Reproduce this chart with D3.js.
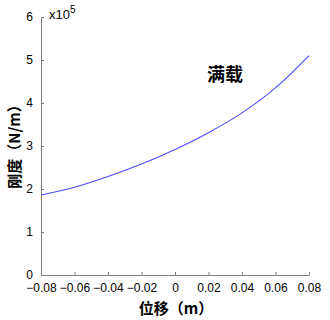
<!DOCTYPE html>
<html>
<head>
<meta charset="utf-8">
<script src="https://cdn.jsdelivr.net/npm/d3@7"></script>
<style>
  body { margin: 0; background: #fff; }
  text { font-family: "Liberation Sans", Arial, sans-serif; }
  .cjk { font-family: "Noto Sans CJK SC", sans-serif; font-weight: bold; }
</style>
</head>
<body>
<div id="chart"></div>
<script>
// displacement (m) and stiffness (x10^5 N/m)
const disp = [-0.08, -0.06, -0.04, -0.02, 0, 0.02, 0.04, 0.06, 0.08];
const stiff = [1.86, 2.04, 2.29, 2.58, 2.92, 3.31, 3.77, 4.35, 5.1];
const xTicks = [-0.08, -0.06, -0.04, -0.02, 0, 0.02, 0.04, 0.06, 0.08];
const yTicks = [0, 1, 2, 3, 4, 5, 6];

const width = 330, height = 320;
const margin = { top: 17, right: 21, bottom: 45, left: 41 };

const svg = d3.select("#chart").append("svg")
    .attr("width", width)
    .attr("height", height);

const x = d3.scaleLinear().domain([-0.08, 0.08]).range([margin.left, width - margin.right]);
const y = d3.scaleLinear().domain([0, 6]).range([height - margin.bottom, margin.top]);

// axes, ticks pointing inward
const xAxis = svg.append("g")
    .attr("transform", `translate(0,${height - margin.bottom})`)
    .call(d3.axisBottom(x).tickValues(xTicks).tickSizeInner(-3).tickSizeOuter(0)
        .tickFormat(d => d === 0 ? "0" : d3.format(".2f")(d)));

const yAxis = svg.append("g")
    .attr("transform", `translate(${margin.left},0)`)
    .call(d3.axisLeft(y).tickValues(yTicks).tickSizeInner(-3).tickSizeOuter(0)
        .tickFormat(d3.format("d")));

[xAxis, yAxis].forEach(a => {
    a.select(".domain").attr("stroke", "#808080");
    a.selectAll(".tick line").attr("stroke", "#808080");
    a.selectAll(".tick text").attr("fill", "#000").style("font-size", "12px");
});
xAxis.selectAll(".tick text").attr("dy", "1.2em");
yAxis.selectAll(".tick text").attr("x", -8);

// the curve
const line = d3.line()
    .x((d, i) => x(disp[i]))
    .y(d => y(d))
    .curve(d3.curveCatmullRom);

svg.append("path")
    .datum(stiff)
    .attr("d", line)
    .attr("fill", "none")
    .attr("stroke", "#4b4bff")
    .attr("stroke-width", 1.1);

// exponent label
const ex = svg.append("text")
    .attr("x", 49)
    .attr("y", 19)
    .style("font-size", "13px")
    .text("x10");
ex.append("tspan").attr("dy", -6).style("font-size", "10px").text("5");

// annotation
svg.append("text")
    .attr("class", "cjk")
    .attr("x", 207)
    .attr("y", 81)
    .style("font-size", "18px")
    .text("满载");

// axis titles
svg.append("text")
    .attr("class", "cjk")
    .attr("x", 176)
    .attr("y", 314)
    .attr("text-anchor", "middle")
    .style("font-size", "15px")
    .text("位移（m）");

svg.append("text")
    .attr("class", "cjk")
    .attr("transform", "translate(20,143) rotate(-90)")
    .attr("text-anchor", "middle")
    .style("font-size", "15px")
    .text("刚度（N/m）");
</script>
</body>
</html>
